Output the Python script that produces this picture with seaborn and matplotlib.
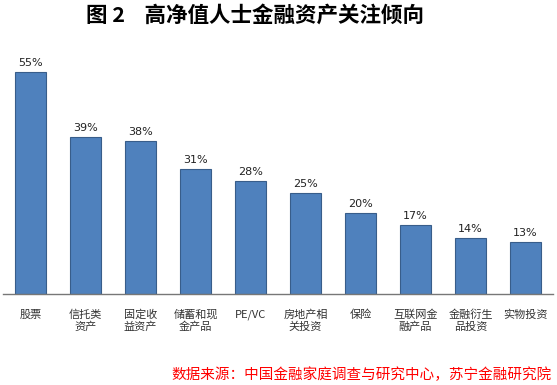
import matplotlib
matplotlib.use("Agg")
import matplotlib.pyplot as plt
import seaborn as sns
import pandas as pd

categories = ["股票", "信托类\n资产", "固定收\n益资产", "储蓄和现\n金产品", "PE/VC",
              "房地产相\n关投资", "保险", "互联网金\n融产品", "金融衍生\n品投资", "实物投资"]
shares = [55, 39, 38, 31, 28, 25, 20, 17, 14, 13]

sns.set_style("white")
plt.rcParams['font.family'] = ['Noto Sans CJK SC', 'DejaVu Sans']

df = pd.DataFrame({"category": categories, "share": shares})

fig = plt.figure(figsize=(5.57, 3.85), dpi=100)
ax = fig.add_axes([3 / 557, 1 - 294 / 385, 550 / 557, 242 / 385])

sns.barplot(data=df, x="category", y="share", color="#4F81BD", saturation=1,
            width=0.56, edgecolor="#385D8A", linewidth=0.8, ax=ax)

for i, v in enumerate(shares):
    ax.text(i, v + 1.0, f"{v}%", ha="center", va="bottom", fontsize=8,
            family=['DejaVu Sans'], color="#222222")

ax.set_ylim(0, 60)
ax.set_xlim(-0.5, len(categories) - 0.5)
ax.set_yticks([])
ax.set_xlabel("")
ax.set_ylabel("")
for s in ["top", "right", "left"]:
    ax.spines[s].set_visible(False)
ax.spines["bottom"].set_color("#777777")
ax.spines["bottom"].set_linewidth(1.0)
ax.tick_params(axis="x", length=0, pad=11, labelsize=8, colors="#333333")
for lbl in ax.get_xticklabels():
    lbl.set_linespacing(1.2)
    lbl.set_verticalalignment("top")

fig.text(255 / 557, 1 - 15 / 385, "图 2    高净值人士金融资产关注倾向", ha="center", va="center",
         fontsize=15.5, fontweight="bold", color="#000000")
fig.text(552 / 557, 1 - 375 / 385, "数据来源：中国金融家庭调查与研究中心，苏宁金融研究院",
         ha="right", va="center", fontsize=10.5, color="#FF0000", style="italic")

fig.savefig("out.png", dpi=100)
